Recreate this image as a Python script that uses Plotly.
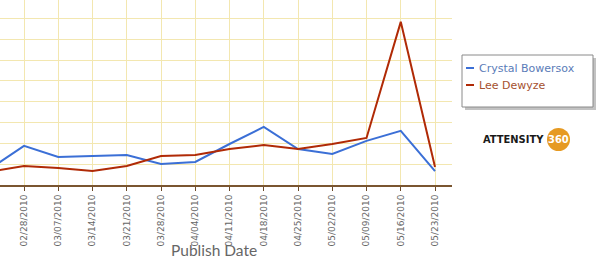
import plotly.graph_objects as go

dates = ["2010-02-21", "2010-02-28", "2010-03-07", "2010-03-14", "2010-03-21", "2010-03-28",
         "2010-04-04", "2010-04-11", "2010-04-18", "2010-04-25", "2010-05-02",
         "2010-05-09", "2010-05-16", "2010-05-23"]
crystal = [7.7, 18.8, 13.5, 13.9, 14.4, 10.1, 11.1, 19.7, 27.9, 17.3, 14.9, 21.2, 26.0, 6.7]
lee = [6.4, 9.1, 8.2, 6.7, 9.1, 13.9, 14.4, 17.3, 19.2, 17.3, 19.7, 22.6, 78.4, 8.7]
tick_dates = dates[1:]
tick_labels = ["02/28/2010", "03/07/2010", "03/14/2010", "03/21/2010", "03/28/2010",
               "04/04/2010", "04/11/2010", "04/18/2010", "04/25/2010", "05/02/2010",
               "05/09/2010", "05/16/2010", "05/23/2010"]
series_names = ["Crystal Bowersox", "Lee Dewyze"]
line_colors = ["#3b6fd6", "#b02a06"]
text_colors = ["#5b7cb8", "#a5512f"]

fig = go.Figure()
for name, vals, col in zip(series_names, [crystal, lee], line_colors):
    fig.add_trace(go.Scatter(x=dates, y=vals, mode="lines", name=name,
                             line=dict(color=col, width=2), showlegend=False))

fig.update_layout(
    width=600, height=264,
    margin=dict(l=0, r=148, t=0, b=79),
    paper_bgcolor="white", plot_bgcolor="white",
    font=dict(family="DejaVu Sans", color="#555555"),
    xaxis=dict(
        range=["2010-02-23T02:17", "2010-05-26T11:20"],
        tickvals=tick_dates, ticktext=tick_labels, tickangle=-90,
        tickfont=dict(size=9, color="#666666", family="DejaVu Sans"),
        showgrid=True, gridcolor="#f3e7b0", gridwidth=1,
        ticks="outside", ticklen=4, tickcolor="#6b4a28", tickwidth=1,
        showline=True, linecolor="#7a5530", linewidth=2,
        zeroline=False, fixedrange=True,
    ),
    yaxis=dict(
        range=[0, 88.9], dtick=10, showticklabels=False,
        showgrid=True, gridcolor="#f3e7b0", gridwidth=1,
        zeroline=False, showline=False, fixedrange=True,
    ),
)

# axis title
fig.add_annotation(xref="paper", yref="paper", x=214/452, y=-65/185, text="Publish Date",
                   showarrow=False, xanchor="center", yanchor="middle",
                   font=dict(size=15.5, color="#666666", family="Lato"))

# manual legend (box with shadow)
fig.add_shape(type="rect", xref="paper", yref="paper",
              x0=465/452, x1=596/452, y0=(185-110)/185, y1=(185-58)/185,
              fillcolor="#9a9a9a", line=dict(width=0), opacity=0.6, layer="above")
fig.add_shape(type="rect", xref="paper", yref="paper",
              x0=462/452, x1=593/452, y0=(185-107)/185, y1=(185-55)/185,
              fillcolor="white", line=dict(color="#8a8a8a", width=1), layer="above")
for i, (name, lc, tc) in enumerate(zip(series_names, line_colors, text_colors)):
    yy = 68 + i * 17
    fig.add_shape(type="line", xref="paper", yref="paper",
                  x0=466/452, x1=474/452, y0=(185-yy)/185, y1=(185-yy)/185,
                  line=dict(color=lc, width=2), layer="above")
    fig.add_annotation(xref="paper", yref="paper", x=477/452, y=(185-yy)/185, text=name,
                       showarrow=False, xanchor="left", yanchor="middle",
                       font=dict(size=11, color=tc, family="DejaVu Sans"))

# logo
fig.add_annotation(xref="paper", yref="paper", x=546/452, y=(185-139)/185, text="<b>ATTENSITY</b>",
                   showarrow=False, xanchor="right", yanchor="middle",
                   font=dict(size=11, color="#1a1a1a", family="DejaVu Sans Condensed"))
fig.add_shape(type="circle", xref="paper", yref="paper",
              x0=547/452, x1=570/452, y0=(185-151)/185, y1=(185-128)/185,
              fillcolor="#e69a22", line=dict(width=0), layer="above")
fig.add_annotation(xref="paper", yref="paper", x=558.5/452, y=(185-139.5)/185, text="<b>360</b>",
                   showarrow=False, xanchor="center", yanchor="middle",
                   font=dict(size=11, color="white", family="DejaVu Sans Condensed"))

fig.write_html("out.html")
